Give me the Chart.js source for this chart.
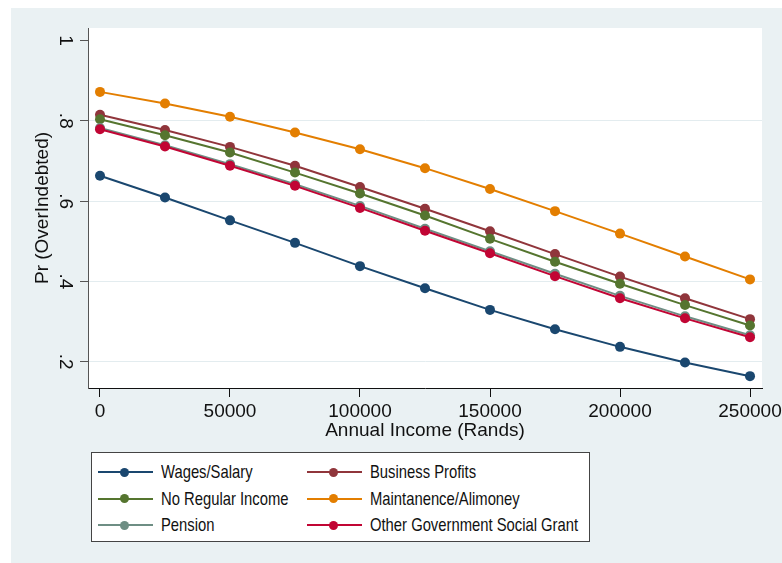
<!DOCTYPE html>
<html lang="en">
<head>
    <meta charset="UTF-8">
    <title>Pr (OverIndebted) by Annual Income</title>
    <script src="https://cdn.jsdelivr.net/npm/chart.js@4.4.0/dist/chart.umd.min.js"></script>
    <style>
        body {
            margin: 0;
            width: 782px;
            height: 563px;
            position: relative;
            background: #ffffff;
            overflow: hidden;
        }

        .graph-region {
            position: absolute;
            left: 11px;
            top: 8px;
            width: 771px;
            height: 555px;
            background: #eaf1f3;
        }

        .chart-box {
            position: absolute;
            left: 0;
            top: 0;
            width: 771px;
            height: 555px;
        }

        .legend-box {
            position: absolute;
            left: 80px;
            top: 444px;
            width: 491px;
            height: 82px;
            background: #ffffff;
            border: 1px solid #444;
            padding: 6px 0 0 6px;
            display: grid;
            grid-template-columns: 209px 276px;
            grid-auto-rows: 26.5px;
            font-family: "Liberation Sans", Arial, sans-serif;
            font-size: 18.5px;
            color: #111;
        }

        .legend-item {
            display: flex;
            align-items: center;
            white-space: nowrap;
            overflow: visible;
        }

        .legend-sample {
            position: relative;
            flex: 0 0 55px;
            height: 2px;
            margin-right: 8px;
        }

        .legend-sample span {
            position: absolute;
            left: 22px;
            top: -3.5px;
            width: 9px;
            height: 9px;
            border-radius: 50%;
        }

        /* the original legend text is set in a narrow face */
        .legend-text {
            display: inline-block;
            transform: scaleX(0.8);
            transform-origin: left center;
        }
    </style>
</head>
<body>
    <div class="graph-region">
        <div class="chart-box"><canvas id="incomeChart"></canvas></div>
        <div class="legend-box" id="legend"></div>
    </div>

    <script>
        // annual income (Rands) at which each probability was predicted
        const incomeLevels = [0, 25000, 50000, 75000, 100000, 125000, 150000, 175000, 200000, 225000, 250000];

        const wagesSalary    = [0.663, 0.609, 0.552, 0.496, 0.438, 0.383, 0.329, 0.281, 0.237, 0.198, 0.164];
        const businessProfit = [0.815, 0.777, 0.735, 0.688, 0.635, 0.581, 0.525, 0.468, 0.412, 0.358, 0.306];
        const noRegular      = [0.804, 0.764, 0.721, 0.671, 0.619, 0.564, 0.506, 0.449, 0.394, 0.341, 0.290];
        const maintenance    = [0.872, 0.843, 0.810, 0.771, 0.729, 0.682, 0.630, 0.575, 0.519, 0.462, 0.405];
        const pension        = [0.782, 0.739, 0.692, 0.642, 0.588, 0.531, 0.475, 0.419, 0.364, 0.313, 0.266];
        const otherGrant     = [0.779, 0.736, 0.688, 0.638, 0.583, 0.526, 0.470, 0.413, 0.358, 0.308, 0.261];

        const seriesNames = ['Wages/Salary', 'Business Profits', 'No Regular Income',
                             'Maintanence/Alimoney', 'Pension', 'Other Government Social Grant'];
        const seriesValues = [wagesSalary, businessProfit, noRegular, maintenance, pension, otherGrant];
        const seriesColors = ['#1a476f', '#90353b', '#55752f', '#e37e00', '#6e8e84', '#c10534'];

        const xTicks = [0, 50000, 100000, 150000, 200000, 250000];
        const yTicks = [0.2, 0.4, 0.6, 0.8, 1];
        const yTickLabels = ['.2', '.4', '.6', '.8', '1'];

        Chart.defaults.font.family = '"Liberation Sans", Arial, sans-serif';
        Chart.defaults.font.size = 19;
        Chart.defaults.color = '#111';

        // white plot region on the grey graph background
        const plotBackground = {
            id: 'plotBackground',
            beforeDraw(chart) {
                const a = chart.chartArea;
                chart.ctx.save();
                chart.ctx.fillStyle = '#ffffff';
                chart.ctx.fillRect(a.left, a.top, a.right - a.left, a.bottom - a.top);
                chart.ctx.restore();
            }
        };

        const datasets = seriesValues.map((vals, i) => ({
            label: seriesNames[i],
            data: vals.map((v, j) => ({ x: incomeLevels[j], y: v })),
            borderColor: seriesColors[i],
            backgroundColor: seriesColors[i],
            pointBackgroundColor: seriesColors[i],
            pointBorderWidth: 0,
            pointRadius: 5,
            borderWidth: 2,
            tension: 0,
            // later series sit on top, as in the original
            order: seriesValues.length - i
        }));

        const chart = new Chart(document.getElementById('incomeChart'), {
            type: 'line',
            data: { datasets: datasets },
            plugins: [plotBackground],
            options: {
                responsive: true,
                maintainAspectRatio: false,
                animation: false,
                layout: { padding: { left: 20, top: 20, right: 20, bottom: 121 } },
                plugins: {
                    legend: { display: false },
                    tooltip: { enabled: false }
                },
                scales: {
                    x: {
                        type: 'linear',
                        min: -4615,
                        max: 254615,
                        afterBuildTicks: s => { s.ticks = xTicks.map(v => ({ value: v })); },
                        afterFit: s => { s.height = 54; s.paddingLeft = 0; s.paddingRight = 0; },
                        ticks: { padding: 3, maxRotation: 0, color: '#111', callback: v => String(v) },
                        grid: { drawOnChartArea: false, tickLength: 9, tickColor: '#111', lineWidth: 1 },
                        border: { color: '#111', width: 1 },
                        title: { display: true, text: 'Annual Income (Rands)', padding: 0, color: '#111' }
                    },
                    y: {
                        min: 0.1345,
                        max: 1.0311,
                        afterBuildTicks: s => { s.ticks = yTicks.map(v => ({ value: v })); },
                        afterFit: s => { s.width = 57; s.paddingTop = 0; s.paddingBottom = 0; },
                        ticks: {
                            minRotation: -90,
                            maxRotation: -90,
                            crossAlign: 'center',
                            padding: 7,
                            color: '#111',
                            callback: (v, i) => yTickLabels[i]
                        },
                        grid: {
                            color: c => (c.tick && c.tick.value === 1) ? 'rgba(0,0,0,0)' : '#e3ecef',
                            tickColor: '#555',
                            tickLength: 8,
                            lineWidth: 1
                        },
                        border: { color: '#555', width: 1 },
                        title: { display: true, text: 'Pr (OverIndebted)', padding: 0, color: '#111' }
                    }
                }
            }
        });

        // legend in a framed box, two columns, built from the chart's own legend items
        const legendEl = document.getElementById('legend');
        Chart.defaults.plugins.legend.labels.generateLabels(chart)
            .sort((a, b) => a.datasetIndex - b.datasetIndex)
            .forEach(item => {
                const row = document.createElement('div');
                row.className = 'legend-item';
                const sample = document.createElement('div');
                sample.className = 'legend-sample';
                sample.style.background = item.strokeStyle;
                const dot = document.createElement('span');
                dot.style.background = item.strokeStyle;
                sample.appendChild(dot);
                const label = document.createElement('span');
                label.className = 'legend-text';
                label.textContent = item.text;
                row.appendChild(sample);
                row.appendChild(label);
                legendEl.appendChild(row);
            });
    </script>
</body>
</html>
